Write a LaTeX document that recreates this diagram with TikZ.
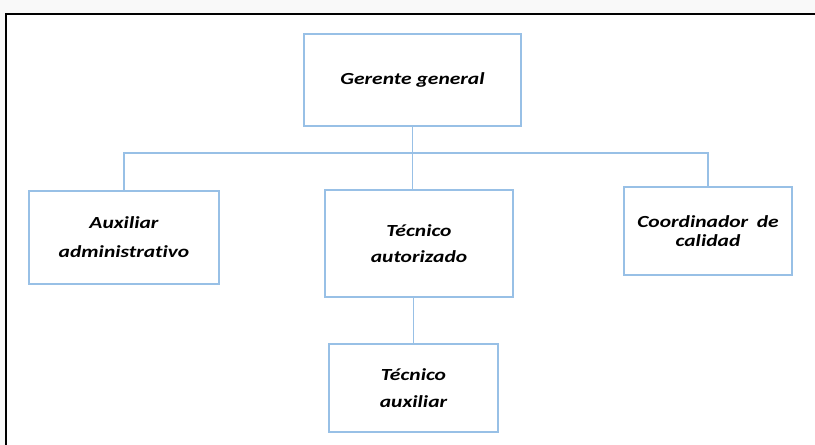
\documentclass[tikz,border=0pt]{standalone}
\usepackage{fontspec}
\newfontfamily\boxfont{Carlito}[FakeStretch=1.27, Ligatures=NoCommon]
\definecolor{boxblue}{RGB}{152,192,230}
\definecolor{paper}{RGB}{249,249,249}
\tikzset{
  orgbox/.style={draw=boxblue, line width=1.8bp, fill=white, inner sep=0pt,
    align=center, text=black},
  conn/.style={draw=boxblue, line width=1.8bp},
}
\begin{document}
\begin{tikzpicture}[x=1bp,y=-1bp]
\useasboundingbox (0,0) rectangle (815,445);
\clip (0,0) rectangle (815,445);
\fill[paper] (0,0) rectangle (815,445);
\fill[white] (6,14) rectangle (815,445);
\draw[black, line width=2bp] (6,450) -- (6,14) -- (820,14);

\node[orgbox, minimum width=217bp, minimum height=92bp,
  font={\boxfont\bfseries\itshape\fontsize{17}{20}\selectfont}]
  (g) at (412.5,80) {Gerente general};
\node[orgbox, minimum width=190bp, minimum height=93bp,
  font={\boxfont\bfseries\itshape\fontsize{17}{29}\selectfont}]
  (aux) at (124,237.5) {Auxiliar\\administrativo};
\node[orgbox, minimum width=188bp, minimum height=107bp,
  font={\boxfont\bfseries\itshape\fontsize{17}{26}\selectfont}]
  (ta) at (419,243.5) {Técnico\\autorizado};
\node[orgbox, minimum width=168bp, minimum height=88bp,
  font={\boxfont\bfseries\itshape\fontsize{17}{19.5}\selectfont}]
  (coord) at (708,231) {Coordinador\hspace{0.5em}de\\calidad};
\node[orgbox, minimum width=169bp, minimum height=88bp,
  font={\boxfont\bfseries\itshape\fontsize{17}{27}\selectfont}]
  (tx) at (413.5,388) {Técnico\\auxiliar};

\coordinate (bus) at (412.5,153);
\draw[conn] (g.south) -- (g.south |- ta.north);
\draw[conn] (aux.north) |- (bus) -| (coord.north);
\draw[conn] (tx.north |- ta.south) -- (tx.north);
\end{tikzpicture}
\end{document}
